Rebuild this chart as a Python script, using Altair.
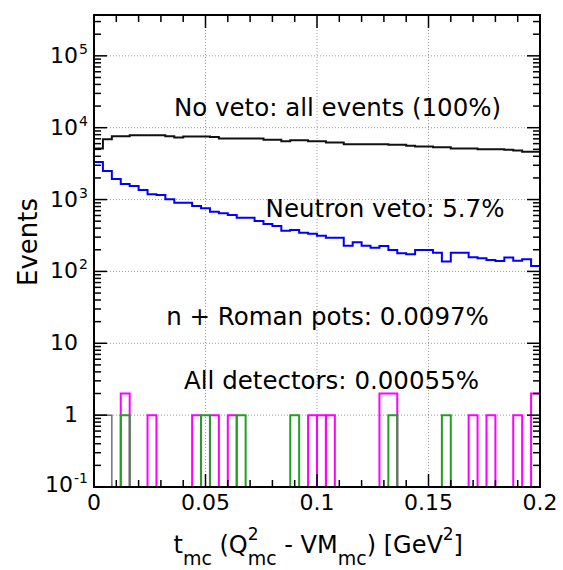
import altair as alt
import pandas as pd

# ---------------- data ----------------
BIN = 0.004  # GeV^2, 50 bins from 0 to 0.2
black_counts = [5140, 6900, 7620, 7620, 7870, 7870, 7870, 7870, 7620, 7310,
                7550, 7550, 7550, 7400, 7080, 7080, 7080, 7080, 7080, 6770,
                6770, 6495, 6700, 6700, 6495, 6495, 6230, 6230, 5900, 5900,
                5900, 5900, 5900, 5780, 5780, 5590, 5480, 5480, 5360, 5360,
                5140, 5140, 5140, 5030, 5030, 5030, 4920, 4820, 4610, 4610]
blue_counts = [3320, 2490, 1930, 1640, 1540, 1355, 1190, 1155, 1007, 903,
               903, 812, 754, 677, 643, 609, 560, 560, 503, 457,
               428, 369, 377, 346, 335, 314, 295, 295, 228, 254,
               228, 214, 226, 199, 179, 173, 199, 199, 182, 137,
               182, 182, 157, 152, 144, 140, 156, 141, 148, 119]
grey_lo = [0.000]
grey_hi = [0.008]
grey_counts = [1]
magenta_lo = [0.012, 0.024, 0.044, 0.052, 0.060, 0.096, 0.100, 0.104, 0.128, 0.168, 0.176, 0.188, 0.196]
magenta_hi = [0.016, 0.028, 0.048, 0.056, 0.064, 0.100, 0.104, 0.108, 0.136, 0.172, 0.180, 0.192, 0.200]
magenta_counts = [2, 1, 1, 1, 1, 1, 1, 1, 2, 1, 1, 1, 2]
green_lo = [0.012, 0.048, 0.064, 0.088, 0.132, 0.156]
green_hi = [0.016, 0.052, 0.068, 0.092, 0.136, 0.160]
green_counts = [1, 1, 1, 1, 1, 1]

x_tick_values = [0, 0.05, 0.1, 0.15, 0.2]
x_tick_labels = ["0", "0.05", "0.1", "0.15", "0.2"]
y_label_values = [0.1, 1, 10, 100, 1000, 10000, 100000]
y_label_base = ["10", "1", "10", "10", "10", "10", "10"]
y_label_exp = ["-1", "", "", "2", "3", "4", "5"]
annotations = ["No veto: all events (100%)", "Neutron veto: 5.7%",
               "n + Roman pots: 0.0097%", "All detectors: 0.00055%"]

# ---------------- layout ----------------
W, H = 446, 472
FONT = "DejaVu Sans"
XMIN, XMAX = 0.0, 0.2
YMIN, YMAX = 0.1, 3.7e5
xs = alt.Scale(domain=[XMIN, XMAX], nice=False, zero=False)
ys = alt.Scale(type="log", domain=[YMIN, YMAX], nice=False)
one = pd.DataFrame({"a": [0]})

layers = []

# grid
layers.append(alt.Chart(pd.DataFrame({"t": [0.05, 0.1, 0.15]})).mark_rule(
    color="#9a9a9a", strokeDash=[1, 2], strokeWidth=1).encode(
    x=alt.X("t:Q", scale=xs, axis=None)))
layers.append(alt.Chart(pd.DataFrame({"n": [1, 10, 100, 1000, 10000, 100000]})).mark_rule(
    color="#9a9a9a", strokeDash=[1, 2], strokeWidth=1).encode(
    y=alt.Y("n:Q", scale=ys, axis=None)))

# step histograms
edges = [round(i * BIN, 6) for i in range(51)]


def step_line(counts, color):
    df = pd.DataFrame({"t": edges, "n": counts + [counts[-1]]})
    return alt.Chart(df).mark_line(interpolate="step-after", color=color,
                                   strokeWidth=2, clip=True).encode(
        x=alt.X("t:Q", scale=xs, axis=None),
        y=alt.Y("n:Q", scale=ys, axis=None))


def boxes(lo, hi, counts, color, width=2):
    df = pd.DataFrame({"lo": lo, "hi": hi, "n": counts, "floor": [YMIN] * len(lo)})
    return alt.Chart(df).mark_rect(filled=False, stroke=color, color=color,
                                   strokeWidth=width, clip=True).encode(
        x=alt.X("lo:Q", scale=xs, axis=None), x2="hi:Q",
        y=alt.Y("n:Q", scale=ys, axis=None), y2="floor:Q")


layers.append(step_line(black_counts, "#111111"))
layers.append(step_line(blue_counts, "#0000ff"))
layers.append(boxes(grey_lo, grey_hi, grey_counts, "#707070", 1.5))
layers.append(boxes(magenta_lo, magenta_hi, magenta_counts, "#ff00ff"))
layers.append(boxes(green_lo, green_hi, green_counts, "#22a022"))

# annotations
ann_pos = [(243.5, 101), (291, 202), (233.5, 310), (237.5, 374)]
for txt, (ax, ay) in zip(annotations, ann_pos):
    layers.append(alt.Chart(one).mark_text(text=txt, font=FONT, fontSize=24.5,
                                           align="center", baseline="alphabetic",
                                           color="black").encode(
        x=alt.value(ax), y=alt.value(ay)))

# ticks (inward)
x_major = [0.05, 0.1, 0.15]
x_minor = [round(0.01 * k, 3) for k in range(1, 20) if k % 5 != 0]
for vals, ln in [(x_major, 13), (x_minor, 7)]:
    d = pd.DataFrame({"t": vals})
    layers.append(alt.Chart(d).mark_rule(color="black", strokeWidth=1.5).encode(
        x=alt.X("t:Q", scale=xs, axis=None), y=alt.value(H), y2=alt.value(H - ln)))
    layers.append(alt.Chart(d).mark_rule(color="black", strokeWidth=1.5).encode(
        x=alt.X("t:Q", scale=xs, axis=None), y=alt.value(0), y2=alt.value(ln)))

y_major = [1, 10, 100, 1000, 10000, 100000]
y_minor = [k * 10.0 ** e for e in range(-1, 6) for k in range(2, 10) if k * 10.0 ** e < YMAX]
for vals, ln in [(y_major, 13), (y_minor, 7)]:
    d = pd.DataFrame({"n": vals})
    layers.append(alt.Chart(d).mark_rule(color="black", strokeWidth=1.5).encode(
        y=alt.Y("n:Q", scale=ys, axis=None), x=alt.value(0), x2=alt.value(ln)))
    layers.append(alt.Chart(d).mark_rule(color="black", strokeWidth=1.5).encode(
        y=alt.Y("n:Q", scale=ys, axis=None), x=alt.value(W), x2=alt.value(W - ln)))

# frame
layers.append(alt.Chart(one).mark_rect(filled=False, stroke="black", color="black",
                                       strokeWidth=2).encode(
    x=alt.value(0), x2=alt.value(W), y=alt.value(0), y2=alt.value(H)))

# x tick labels
layers.append(alt.Chart(pd.DataFrame({"t": x_tick_values, "lab": x_tick_labels})).mark_text(
    font=FONT, fontSize=22, align="center", baseline="alphabetic", color="black").encode(
    x=alt.X("t:Q", scale=xs, axis=None), y=alt.value(495), text="lab:N"))

# y tick labels (base + superscript exponent)
ydf = pd.DataFrame({"n": y_label_values, "base": y_label_base, "exp": y_label_exp})
layers.append(alt.Chart(ydf).transform_filter("datum.n >= 1").mark_text(
    font=FONT, fontSize=22, align="right", baseline="middle", color="black").encode(
    y=alt.Y("n:Q", scale=ys, axis=None), x=alt.value(-16), text="base:N"))
layers.append(alt.Chart(ydf).transform_filter("datum.n < 1").mark_text(
    font=FONT, fontSize=22, align="right", baseline="middle", color="black", dy=-2).encode(
    y=alt.Y("n:Q", scale=ys, axis=None), x=alt.value(-21), text="base:N"))
layers.append(alt.Chart(ydf).transform_filter("datum.n >= 1").mark_text(
    font=FONT, fontSize=14, align="left", baseline="alphabetic", color="black", dy=-2).encode(
    y=alt.Y("n:Q", scale=ys, axis=None), x=alt.value(-15), text="exp:N"))
layers.append(alt.Chart(ydf).transform_filter("datum.n < 1").mark_text(
    font=FONT, fontSize=14, align="left", baseline="alphabetic", color="black", dy=-4).encode(
    y=alt.Y("n:Q", scale=ys, axis=None), x=alt.value(-20), text="exp:N"))

# y title
layers.append(alt.Chart(one).mark_text(text="Events", font=FONT, fontSize=26, angle=270,
                                       align="center", baseline="alphabetic",
                                       color="black").encode(
    x=alt.value(-57), y=alt.value(227)))

# x title pieces: t_mc (Q^2_mc - VM_mc) [GeV^2]
pieces = [
    ("t", 79.5, 538, 24), ("mc", 88.9, 550, 19), ("(Q", 125.5, 538, 24),
    ("2", 153.7, 525, 17), ("mc", 153.7, 550, 19), ("- VM", 190.3, 538, 24),
    ("mc", 243.7, 550, 19), (") [GeV", 272.7, 538, 24), ("2", 348.8, 525, 17),
    ("]", 359.6, 538, 24),
]
for txt, px, py, fs in pieces:
    layers.append(alt.Chart(one).mark_text(text=txt, font=FONT, fontSize=fs,
                                           align="left", baseline="alphabetic",
                                           color="black").encode(
        x=alt.value(px), y=alt.value(py)))

chart = alt.layer(*layers).properties(
    width=W, height=H,
    autosize=alt.AutoSizeParams(type="none"),
    padding={"left": 94, "top": 15, "right": 23, "bottom": 83},
    background="white",
).configure_view(stroke=None)

chart.save("out.html", embed_options={"renderer": "svg", "actions": False})
